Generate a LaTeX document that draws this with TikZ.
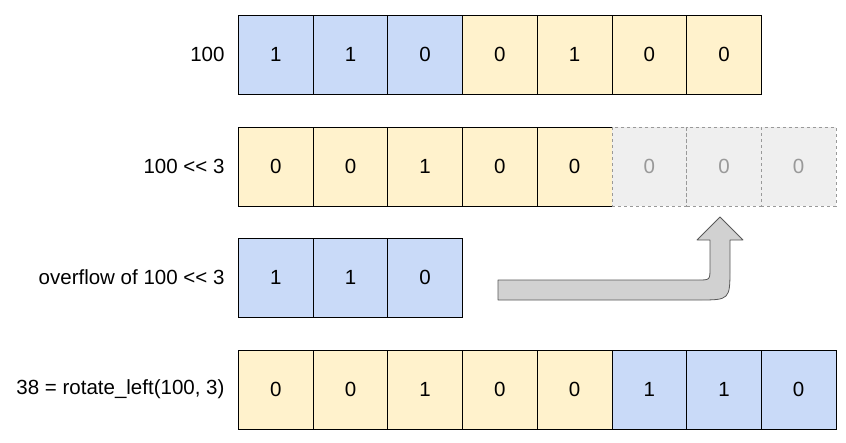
\documentclass[tikz,border=0pt]{standalone}
\usepackage{fontspec}
\setmainfont[Ligatures=NoCommon]{Liberation Sans}
\begin{document}
\begin{tikzpicture}[x=1pt,y=-1pt,
  cell/.style={draw=black,line width=0.8pt,minimum width=74.7pt,minimum height=79pt,anchor=north west,inner sep=0,font=\fontsize{20.5}{23}\selectfont},
  bl/.style={cell,fill=bluec},
  yl/.style={cell,fill=yelc},
  gr/.style={cell,fill=greyc,draw=greyd,dashed,text=greyd},
  lab/.style={anchor=east,font=\fontsize{20.5}{23}\selectfont}]
\definecolor{bluec}{HTML}{C9DAF8}
\definecolor{yelc}{HTML}{FFF2CC}
\definecolor{greyc}{HTML}{EFEFEF}
\definecolor{greyd}{HTML}{999999}
\useasboundingbox (0,0) rectangle (846,442);
% row 1
\foreach \v [count=\i from 0] in {1,1,0} \node[bl] (a\i) at (238+74.7*\i,15) {\v};
\foreach \v [count=\i from 3] in {0,1,0,0} \node[yl] (a\i) at (238+74.7*\i,15) {\v};
\node[lab] (l1) at (228,54.5) {100};
% row 2
\foreach \v [count=\i from 0] in {0,0,1,0,0} \node[yl] (b\i) at (238+74.7*\i,127) {\v};
\foreach \i in {5,6,7} \node[gr] (b\i) at (238+74.7*\i,127) {0};
\node[lab] (l2) at (228,166.5) {100 {<}{<} 3};
% row 3
\foreach \v [count=\i from 0] in {1,1,0} \node[bl] (c\i) at (238+74.7*\i,238) {\v};
\node[lab] (l3) at (228,277.5) {overflow of 100 {<}{<} 3};
% row 4
\foreach \v [count=\i from 0] in {0,0,1,0,0} \node[yl] (d\i) at (238+74.7*\i,350) {\v};
\foreach \v [count=\i from 5] in {1,1,0} \node[bl] (d\i) at (238+74.7*\i,350) {\v};
\node[lab] (l4) at (228,389.5) {38 = rotate\_left(100, 3)};
% bent arrow
\draw[fill=black!18,draw=black!65,line width=0.8pt,line join=round]
 (498,280) -- (698,280) .. controls (710,280) .. (710,268) -- (710,240) -- (697,240) -- (720,217)
 -- (743,240) -- (730,240) -- (730,268) .. controls (730,300) .. (698,300) -- (498,300) -- cycle;
\end{tikzpicture}
\end{document}
